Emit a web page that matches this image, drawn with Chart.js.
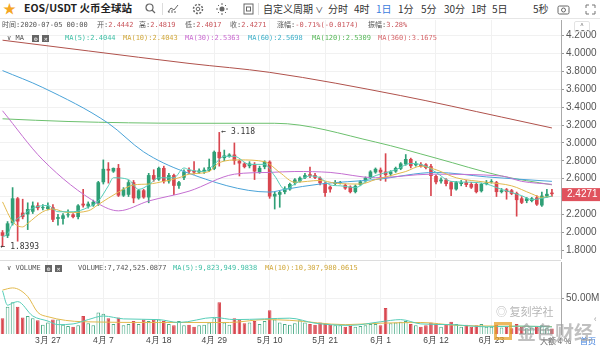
<!DOCTYPE html>
<html>
<head>
<meta charset="utf-8">
<script src="https://cdn.jsdelivr.net/npm/chart.js@4.4.0/dist/chart.umd.min.js"></script>
<style>
  body { margin: 0; width: 600px; height: 347px; overflow: hidden; background: #fff; position: relative;
         font-family: "Noto Sans CJK SC", "Noto Sans", sans-serif; }
  canvas { position: absolute; left: 0; }
  .t { position: absolute; white-space: nowrap; line-height: 1; }
  .mono { font-family: "DejaVu Sans Mono", "Noto Sans CJK SC", monospace; font-size: 7px; color: #555; }
  .red { color: #c9555b; }
  .bar { font-size: 10px; color: #333; top: 4px; }
  .sep { position: absolute; top: 3px; width: 1px; height: 12px; background: #ddd; }
  .ico { position: absolute; top: 3px; }
  .box { display: inline-block; width: 7px; height: 7px; background: #666; color: #fff; font-size: 6px;
         text-align: center; line-height: 7px; vertical-align: middle; margin-right: 3px; }
</style>
</head>
<body>

<!-- toolbar -->
<div class="t" style="left:3px;top:1px;font-size:13px;color:#f5a623">★</div>
<div class="t" style="left:24px;top:3px;font-size:10.5px;font-weight:600;color:#222">EOS/USDT 火币全球站</div>
<svg class="ico" style="left:145px" width="11" height="11"><circle cx="4.5" cy="4.5" r="3.5" fill="none" stroke="#666" stroke-width="1.2"/><line x1="7" y1="7" x2="10" y2="10" stroke="#666" stroke-width="1.2"/></svg>
<div class="sep" style="left:162px"></div>
<svg class="ico" style="left:167px" width="12" height="11"><polyline points="1,9 4,5 7,7 11,2" fill="none" stroke="#666" stroke-width="1"/><line x1="2" y1="10" x2="2" y2="8" stroke="#666"/><line x1="5" y1="10" x2="5" y2="7" stroke="#666"/><line x1="8" y1="10" x2="8" y2="8" stroke="#666"/></svg>
<svg class="ico" style="left:192px" width="12" height="12"><circle cx="6" cy="6" r="4.5" fill="none" stroke="#666" stroke-width="1.5" stroke-dasharray="2 1.5"/><circle cx="6" cy="6" r="1.8" fill="none" stroke="#666"/></svg>
<svg class="ico" style="left:216px" width="12" height="12"><circle cx="6" cy="6" r="2.5" fill="#666"/><g stroke="#666" stroke-width="1"><line x1="6" y1="0" x2="6" y2="2"/><line x1="6" y1="10" x2="6" y2="12"/><line x1="0" y1="6" x2="2" y2="6"/><line x1="10" y1="6" x2="12" y2="6"/><line x1="2" y1="2" x2="3" y2="3"/><line x1="9" y1="9" x2="10" y2="10"/><line x1="2" y1="10" x2="3" y2="9"/><line x1="9" y1="3" x2="10" y2="2"/></g></svg>
<svg class="ico" style="left:243px" width="11" height="12"><rect x="1" y="1" width="9" height="10" fill="none" stroke="#666"/><rect x="3.5" y="4" width="4" height="4" fill="none" stroke="#666"/></svg>
<div class="sep" style="left:258px"></div>
<div class="t bar" style="left:263px">自定义周期 <span style="font-size:8px">∨</span></div>
<div class="t bar" style="left:328px">分时</div>
<div class="t bar" style="left:354px">4时</div>
<div class="t bar" style="left:376px;color:#3b7ddd">1日</div>
<div class="t bar" style="left:398px">1分</div>
<div class="t bar" style="left:421px">5分</div>
<div class="t bar" style="left:444px">30分</div>
<div class="t bar" style="left:471px">1时</div>
<div class="t bar" style="left:492px">5日</div>
<div class="t bar" style="left:533px">5秒</div>
<svg class="ico" style="left:557px;top:4px" width="13" height="11"><rect x="1" y="2" width="11" height="8" rx="1.5" fill="none" stroke="#666"/><circle cx="6.5" cy="6" r="2" fill="none" stroke="#666"/></svg>
<svg class="ico" style="left:585px;top:4px" width="11" height="11"><g stroke="#777" fill="none"><polyline points="1,4 1,1 4,1"/><polyline points="7,1 10,1 10,4"/><polyline points="1,7 1,10 4,10"/><polyline points="10,7 10,10 7,10"/></g></svg>
<div style="position:absolute;left:0;top:18px;width:600px;height:1px;background:#e6e6e6"></div>

<canvas id="priceCanvas" width="600" height="254" style="top:12px"></canvas>
<canvas id="volCanvas" width="600" height="93" style="top:254px"></canvas>
<div style="position:absolute;left:0;top:260px;width:561px;height:1px;background:#dcdcdc"></div>

<!-- info rows -->
<div class="t mono" style="left:2px;top:22px">时间:2020-07-05 00:00</div>
<div class="t mono" style="left:97px;top:22px">开:<span class="red">2.4442</span></div>
<div class="t mono" style="left:139px;top:22px">高:<span class="red">2.4819</span></div>
<div class="t mono" style="left:185px;top:22px">低:<span class="red">2.4017</span></div>
<div class="t mono" style="left:230px;top:22px">收:<span class="red">2.4271</span></div>
<div class="t mono" style="left:277px;top:22px">涨幅:<span class="red">-0.71%(-0.0174)</span></div>
<div class="t mono" style="left:368px;top:22px">振幅:<span class="red">3.28%</span></div>

<div class="t mono" style="left:7px;top:35px">∨ MA&nbsp;&nbsp;<span class="box">⚙</span><span class="box">✕</span></div>
<div class="t mono" style="left:65px;top:35px;color:#3dbfa5">MA(5):2.4044</div>
<div class="t mono" style="left:123px;top:35px;color:#d1a83c">MA(10):2.4043</div>
<div class="t mono" style="left:185px;top:35px;color:#c96bd0">MA(30):2.5363</div>
<div class="t mono" style="left:248px;top:35px;color:#3fb0c9">MA(60):2.5698</div>
<div class="t mono" style="left:312px;top:35px;color:#58b85a">MA(120):2.5309</div>
<div class="t mono" style="left:378px;top:35px;color:#d76a6e">MA(360):3.1675</div>
<div class="t" style="left:574px;top:21px;width:14px;height:9px;border:1px solid #e3e3e3;border-radius:2px;font-size:7px;color:#777;text-align:center">^</div>

<div class="t mono" style="left:7px;top:265px">∨ VOLUME&nbsp;<span class="box">⚙</span><span class="box">✕</span></div>
<div class="t mono" style="left:78px;top:265px">VOLUME:7,742,525.0877</div>
<div class="t mono" style="left:173px;top:265px;color:#3dbfa5">MA(5):9,823,949.9838</div>
<div class="t mono" style="left:265px;top:265px;color:#d1a83c">MA(10):10,307,980.0615</div>
<div class="t" style="left:594px;top:314px;font-size:9px;color:#999">‹</div>

<!-- bottom right links, partly under the watermark -->
<div class="t" style="left:540px;top:337px;font-size:8px;color:#666">大额 4 %</div>
<div class="t" style="left:580px;top:337px;font-size:8px;color:#3b7ddd">首页</div>

<!-- watermark -->
<div class="t" style="left:496px;top:306px;font-size:11px;color:rgba(120,120,120,0.55)">◎ 复刻学社</div>
<div class="t" style="left:494px;top:322px;width:18px;height:18px;border:3px solid rgba(230,160,40,0.75);box-sizing:border-box"></div>
<div class="t" style="left:517px;top:322px;font-size:19px;font-weight:700;color:rgba(150,150,150,0.6)">金色财经</div>

<script>
// x axis date labels (day index -> label), first day is 3/18
const tickIdx = [9, 20, 31, 42, 53, 64, 75, 86, 97];
const tickLabels = ['3月 27', '4月 7', '4月 18', '4月 29', '5月 10', '5月 21', '6月 1', '6月 12', '6月 23'];

// daily candles 3/18 .. 7/5
const openP = [2.00,1.96,2.10,2.38,2.22,2.20,2.23,2.30,2.27,2.26,
  2.28,2.15,2.15,2.19,2.20,2.17,2.32,2.29,2.30,2.32,
  2.56,2.71,2.68,2.72,2.41,2.42,2.56,2.38,2.47,2.39,
  2.64,2.59,2.72,2.57,2.64,2.52,2.61,2.70,2.69,2.67,
  2.68,2.69,2.71,2.90,2.83,2.85,2.87,2.80,2.77,2.74,
  2.76,2.67,2.73,2.79,2.40,2.42,2.45,2.48,2.55,2.57,
  2.61,2.65,2.64,2.61,2.55,2.51,2.54,2.55,2.53,2.51,
  2.45,2.53,2.57,2.61,2.67,2.70,2.68,2.65,2.68,2.71,
  2.76,2.82,2.75,2.76,2.76,2.74,2.63,2.57,2.59,2.56,
  2.48,2.54,2.56,2.54,2.54,2.46,2.54,2.56,2.56,2.45,
  2.48,2.47,2.44,2.38,2.35,2.35,2.39,2.30,2.40,2.4442];
const highP = [2.02,2.12,2.50,2.39,2.37,2.33,2.34,2.33,2.31,2.33,
  2.31,2.20,2.21,2.25,2.21,2.31,2.48,2.34,2.36,2.57,
  2.81,2.78,2.72,2.76,2.50,2.58,2.58,2.48,2.48,2.66,
  2.70,2.73,2.74,2.66,2.65,2.57,2.70,2.72,2.79,2.71,
  2.72,2.82,2.91,3.118,2.92,2.88,3.00,2.81,2.78,2.79,
  2.78,2.74,2.80,2.80,2.45,2.46,2.51,2.55,2.60,2.62,
  2.66,2.73,2.66,2.62,2.56,2.52,2.58,2.57,2.54,2.52,
  2.53,2.58,2.62,2.69,2.72,2.72,2.88,2.69,2.73,2.78,
  2.87,2.83,2.79,2.78,2.77,2.76,2.64,2.61,2.60,2.57,
  2.57,2.58,2.58,2.56,2.55,2.55,2.58,2.59,2.57,2.49,
  2.49,2.48,2.45,2.40,2.39,2.39,2.41,2.45,2.48,2.4819];
const lowP = [1.8393,1.94,2.08,1.90,2.15,2.03,2.21,2.25,2.25,2.25,
  2.12,2.08,2.09,2.17,2.16,2.15,2.28,2.27,2.29,2.30,
  2.54,2.55,2.67,2.40,2.40,2.40,2.33,2.37,2.38,2.33,
  2.57,2.58,2.55,2.55,2.42,2.49,2.59,2.66,2.65,2.66,
  2.66,2.68,2.70,2.74,2.80,2.84,2.76,2.63,2.72,2.72,
  2.59,2.66,2.71,2.38,2.26,2.28,2.43,2.47,2.53,2.56,
  2.60,2.61,2.60,2.53,2.40,2.45,2.53,2.54,2.48,2.44,
  2.44,2.52,2.56,2.60,2.66,2.58,2.57,2.63,2.67,2.70,
  2.75,2.72,2.74,2.73,2.71,2.41,2.54,2.55,2.52,2.41,
  2.47,2.52,2.51,2.49,2.44,2.45,2.53,2.55,2.40,2.44,
  2.37,2.42,2.18,2.32,2.33,2.34,2.30,2.29,2.39,2.4017];
const closeP = [1.96,2.10,2.38,2.12,2.17,2.26,2.30,2.27,2.28,2.29,
  2.14,2.17,2.19,2.20,2.17,2.30,2.30,2.32,2.34,2.56,
  2.71,2.69,2.72,2.41,2.48,2.56,2.38,2.47,2.39,2.64,
  2.59,2.72,2.57,2.64,2.52,2.56,2.68,2.68,2.67,2.69,
  2.70,2.73,2.90,2.83,2.86,2.87,2.80,2.77,2.73,2.77,
  2.68,2.72,2.79,2.40,2.43,2.45,2.49,2.54,2.59,2.61,
  2.64,2.63,2.61,2.55,2.44,2.48,2.56,2.56,2.49,2.45,
  2.52,2.57,2.61,2.68,2.71,2.67,2.64,2.68,2.72,2.77,
  2.82,2.74,2.77,2.74,2.72,2.63,2.56,2.59,2.54,2.48,
  2.56,2.56,2.53,2.50,2.45,2.54,2.56,2.57,2.45,2.47,
  2.45,2.43,2.36,2.33,2.38,2.38,2.31,2.41,2.43,2.4271];

// daily volume, millions
const volume = [22,38,44,38,23,25,22,19,13,16,
  20,20,13,11,10,12,25,15,12,30,
  28,22,14,23,12,14,18,14,20,18,
  20,20,18,14,12,18,12,13,10,12,
  13,16,22,44,16,13,22,20,15,16,
  18,14,18,33,20,16,14,13,15,19,
  16,14,13,16,14,13,12,12,10,11,
  10,11,12,14,14,12,36,15,16,17,
  18,14,12,10,12,16,14,10,13,17,
  14,10,13,10,12,14,10,10,13,9,
  10,8,14,10,8,9,10,12,8,7.74];

// moving averages: [day index, value]
const ma5 = [[0,1.95],[1,1.98],[2,2.10],[4,2.19],[6,2.27],[9,2.30],[11,2.23],[14,2.23],[17,2.28],[19,2.35],
  [21,2.52],[22,2.61],[25,2.59],[27,2.48],[29,2.53],[31,2.61],[34,2.61],[36,2.72],[37,2.70],[40,2.68],
  [42,2.76],[44,2.85],[46,2.85],[49,2.76],[52,2.76],[54,2.63],[56,2.48],[58,2.54],[61,2.63],[63,2.61],
  [65,2.53],[67,2.52],[70,2.50],[73,2.61],[78,2.70],[81,2.77],[84,2.74],[86,2.67],[89,2.57],[93,2.56],
  [96,2.54],[99,2.48],[103,2.41],[105,2.365],[107,2.38],[109,2.4044]];
const ma10 = [[0,2.34],[2,2.12],[4,2.06],[5,2.10],[8,2.23],[10,2.26],[13,2.22],[17,2.24],[19,2.31],[23,2.45],
  [26,2.53],[29,2.54],[32,2.57],[35,2.61],[37,2.65],[41,2.68],[43,2.78],[47,2.81],[52,2.79],[55,2.67],
  [58,2.56],[63,2.58],[66,2.55],[71,2.54],[74,2.59],[80,2.68],[83,2.74],[86,2.70],[90,2.61],[96,2.56],
  [101,2.52],[105,2.43],[107,2.39],[109,2.4043]];
const ma30 = [[0,3.36],[8,2.81],[19,2.32],[23,2.24],[29,2.35],[37,2.46],[46,2.65],[53,2.67],[58,2.68],
  [65,2.67],[74,2.61],[85,2.65],[99,2.63],[103,2.57],[109,2.5363]];
const ma60 = [[0,3.81],[8,3.62],[21,3.22],[28,2.90],[36,2.68],[53,2.45],[56,2.48],[63,2.54],[74,2.59],
  [86,2.67],[96,2.62],[109,2.5698]];
const ma120 = [[0,3.27],[13,3.24],[37,3.22],[54,3.22],[74,3.01],[86,2.83],[99,2.63],[109,2.5309]];
const ma360 = [[0,4.15],[17,4.03],[37,3.89],[53,3.79],[79,3.53],[99,3.29],[109,3.1675]];
const volMa5 = [[0,60],[1,40],[2,43],[3,45],[6,25],[9,18],[11,13],[14,14],[17,20],[20,25],[24,21],[31,20],
  [35,16],[42,23],[46,20],[52,21],[57,22],[62,15],[69,12],[75,17],[79,20],[83,14],[89,13],[96,10],[103,11],[109,9.82]];
const volMa10 = [[0,61],[2,64],[5,52],[7,30],[9,24],[16,17],[31,16],[45,16],[52,20],[57,19],[68,13],[75,15],
  [83,16],[90,12],[98,11],[109,10.31]];

const UP = '#2f9f76', DOWN = '#d8464f', GRID = '#f1f1f1';
const isUp = i => closeP[i] >= openP[i];
const pts = arr => arr.map(p => ({x: p[0], y: p[1]}));

function maLine(data, color) {
  return { type: 'line', data: pts(data), borderColor: color, borderWidth: 1, pointRadius: 0,
           cubicInterpolationMode: 'monotone', order: 1 };
}

// the bar default offset:true would pad a linear axis, so it is switched off
const xAxis = (showLabels) => ({
  type: 'linear', min: -0.5, max: 110.8, offset: false,
  afterBuildTicks: s => { s.ticks = tickIdx.map(v => ({value: v})); },
  afterFit: s => { s.height = showLabels ? 13 : 0; },
  grid: { color: GRID, drawTicks: false, offset: false },
  border: { display: false },
  ticks: { display: showLabels, padding: 2, color: '#444', font: { size: 8.5 },
           callback: v => tickLabels[tickIdx.indexOf(v)] }
});

// overlay marks: extreme prices and current price tag
const priceMarks = {
  id: 'priceMarks',
  afterDraw(chart) {
    const {ctx, chartArea} = chart;
    const x = chart.scales.x, y = chart.scales.y;
    let hi = 0, lo = 0;
    highP.forEach((v, i) => { if (v > highP[hi]) hi = i; });
    lowP.forEach((v, i) => { if (v < lowP[lo]) lo = i; });
    ctx.save();
    ctx.font = '8px "DejaVu Sans Mono", monospace';
    ctx.fillStyle = '#333';
    ctx.textBaseline = 'middle';
    ctx.fillText('← ' + highP[hi].toFixed(3), x.getPixelForValue(hi) + 2, y.getPixelForValue(highP[hi]));
    ctx.fillText('← ' + lowP[lo].toFixed(4), x.getPixelForValue(lo) - 2, y.getPixelForValue(lowP[lo]));
    const last = closeP.length - 1;
    const py = y.getPixelForValue(closeP[last]);
    ctx.fillStyle = '#e0525d';
    ctx.fillRect(chartArea.right + 1, py - 6, 39, 13);
    ctx.fillStyle = '#fff';
    ctx.font = '10px "Liberation Sans", Arial, sans-serif';
    ctx.fillText(closeP[last].toFixed(4), chartArea.right + 6, py + 0.5);
    ctx.restore();
  }
};

new Chart(document.getElementById('priceCanvas'), {
  type: 'bar',
  data: {
    datasets: [
      maLine(ma5, '#56cdb8'), maLine(ma10, '#e2b94d'), maLine(ma30, '#c46fd1'),
      maLine(ma60, '#4aa3d8'), maLine(ma120, '#6cc06e'), maLine(ma360, '#b0524c'),
      { data: lowP.map((v, i) => ({x: i, y: [v, highP[i]]})), barThickness: 1, grouped: false, order: 10,
        backgroundColor: c => isUp(c.dataIndex) ? UP : DOWN },
      { data: openP.map((v, i) => ({x: i, y: [v, closeP[i]]})), barPercentage: 0.72, categoryPercentage: 1,
        grouped: false, order: 9, minBarLength: 1,
        backgroundColor: c => isUp(c.dataIndex) ? UP : DOWN }
    ]
  },
  options: {
    responsive: false, animation: false,
    layout: { padding: { top: 6, bottom: 6 } },
    plugins: { legend: { display: false }, tooltip: { enabled: false } },
    scales: {
      x: xAxis(false),
      y: {
        position: 'right', min: 1.712, max: 4.376,
        afterBuildTicks: s => { s.ticks = [1.8,2.0,2.2,2.4,2.6,2.8,3.0,3.2,3.4,3.6,3.8,4.0,4.2].map(v => ({value: v})); },
        afterFit: s => { s.width = 39; },
        grid: { color: GRID, tickColor: '#999', tickLength: 3 },
        border: { color: '#aaa' },
        ticks: { padding: 2, color: '#555', font: { size: 10, family: '"Liberation Sans", Arial, sans-serif' },
                 callback: v => v.toFixed(4) }
      }
    }
  },
  plugins: [priceMarks]
});

new Chart(document.getElementById('volCanvas'), {
  type: 'bar',
  data: {
    datasets: [
      { type: 'line', data: pts(volMa5), borderColor: '#56cdb8', borderWidth: 1, pointRadius: 0,
        cubicInterpolationMode: 'monotone', order: 1 },
      { type: 'line', data: pts(volMa10), borderColor: '#e2b94d', borderWidth: 1, pointRadius: 0,
        cubicInterpolationMode: 'monotone', order: 1 },
      { data: volume.map((v, i) => ({x: i, y: v})), barPercentage: 0.72, categoryPercentage: 1, order: 5,
        borderWidth: 1,
        borderColor: c => isUp(c.dataIndex) ? '#4aab86' : DOWN,
        backgroundColor: c => isUp(c.dataIndex) ? '#ffffff' : DOWN }
    ]
  },
  options: {
    responsive: false, animation: false,
    layout: { padding: { top: 6 } },
    plugins: { legend: { display: false }, tooltip: { enabled: false } },
    scales: {
      x: xAxis(true),
      y: {
        position: 'right', min: 0, max: 100,
        afterBuildTicks: s => { s.ticks = [{value: 50}]; },
        afterFit: s => { s.width = 39; },
        grid: { color: GRID, tickColor: '#999', tickLength: 3 },
        border: { color: '#aaa' },
        ticks: { padding: 2, color: '#555', font: { size: 10, family: '"Liberation Sans", Arial, sans-serif' },
                 callback: v => v.toFixed(2) + 'M' }
      }
    }
  }
});
</script>
</body>
</html>
